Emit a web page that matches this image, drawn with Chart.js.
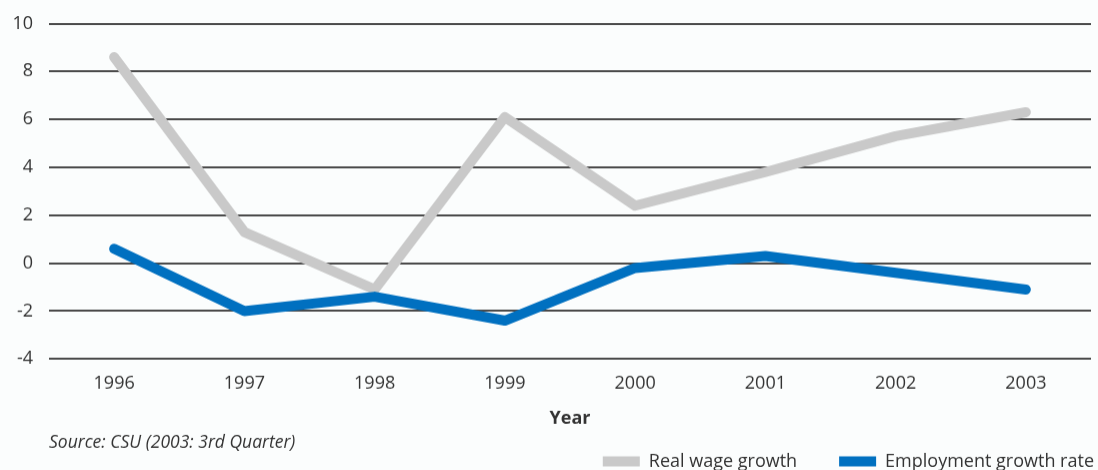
<!DOCTYPE html>
<html>
<head>
<meta charset="utf-8">
<title>Real wage growth and employment growth rate</title>
<script src="https://cdn.jsdelivr.net/npm/chart.js@4.4.1/dist/chart.umd.min.js"></script>
<style>
  html, body { margin: 0; padding: 0; background: #fbfdfd; overflow: hidden; }
  #wrap { position: relative; width: 1098px; height: 523.5px; }
</style>
</head>
<body>
<div id="wrap"><canvas id="chart"></canvas></div>
<script>
// yearly values, %
const years = ["1996", "1997", "1998", "1999", "2000", "2001", "2002", "2003"];
const realWage = [8.6, 1.3, -1.1, 6.1, 2.4, 3.8, 5.3, 6.3];
const employment = [0.6, -2.0, -1.4, -2.4, -0.2, 0.3, -0.4, -1.1];
const yMin = -4;
const yMax = 10;
const yStep = 2;

const textColor = "#333333";
const fontFamily = "'Open Sans', 'DejaVu Sans', sans-serif";

// legend sits lower right, shifted after layout so item spacing can stay wide
const legendNudge = {
  id: "legendNudge",
  afterLayout(chart) {
    const lg = chart.legend;
    lg.top -= 44;
    lg.bottom -= 44;
    lg.left += 45;
    lg.right += 45;
  }
};

const data = {
  labels: years,
  datasets: [
    {
      label: "Real wage growth",
      data: realWage,
      borderColor: "#c9c9c9",
      backgroundColor: "#c9c9c9",
      order: 1
    },
    {
      label: "Employment growth rate",
      data: employment,
      borderColor: "#0070c0",
      backgroundColor: "#0070c0",
      order: 0
    }
  ]
};

const config = {
  type: "line",
  data: data,
  options: {
    responsive: true,
    maintainAspectRatio: false,
    animation: false,
    layout: { padding: { top: 23.5, right: 7, left: 0, bottom: 0 } },
    elements: {
      line: {
        borderWidth: 10,
        borderCapStyle: "round",
        borderJoinStyle: "round",
        tension: 0
      },
      point: { radius: 0, hoverRadius: 0 }
    },
    scales: {
      x: {
        offset: true,
        grid: { display: false, drawTicks: false },
        border: { display: false },
        ticks: {
          color: textColor,
          font: { family: fontFamily, size: 18 },
          padding: 13.5
        },
        title: {
          display: true,
          text: "Year",
          color: textColor,
          font: { family: fontFamily, size: 18, weight: "bold" },
          padding: { top: 0, bottom: 0 }
        }
      },
      y: {
        min: yMin,
        max: yMax,
        afterFit: scale => { scale.width = 49; },
        grid: { color: "#4a4a4a", lineWidth: 2, drawTicks: false },
        border: { display: false },
        ticks: {
          stepSize: yStep,
          color: textColor,
          font: { family: fontFamily, size: 18, lineHeight: 0.8 },
          padding: 16
        }
      }
    },
    plugins: {
      tooltip: { enabled: false },
      subtitle: {
        display: true,
        position: "bottom",
        align: "start",
        fullSize: false,
        weight: 500,
        text: "Source: CSU (2003: 3rd Quarter)",
        color: textColor,
        font: { family: fontFamily, size: 17.5, style: "italic", weight: "normal" },
        padding: { top: 3, bottom: 1 }
      },
      legend: {
        position: "bottom",
        align: "end",
        reverse: true,
        weight: 1000,
        maxHeight: 70,
        labels: {
          color: textColor,
          font: { family: fontFamily, size: 18 },
          boxWidth: 37,
          boxHeight: 10,
          padding: 42,
          generateLabels: chart =>
            Chart.defaults.plugins.legend.labels.generateLabels(chart).map(item => {
              item.lineWidth = 0;
              item.fillStyle = item.strokeStyle;
              return item;
            })
        }
      }
    }
  },
  plugins: [legendNudge]
};

const myChart = new Chart(document.getElementById("chart"), config);
</script>
</body>
</html>
